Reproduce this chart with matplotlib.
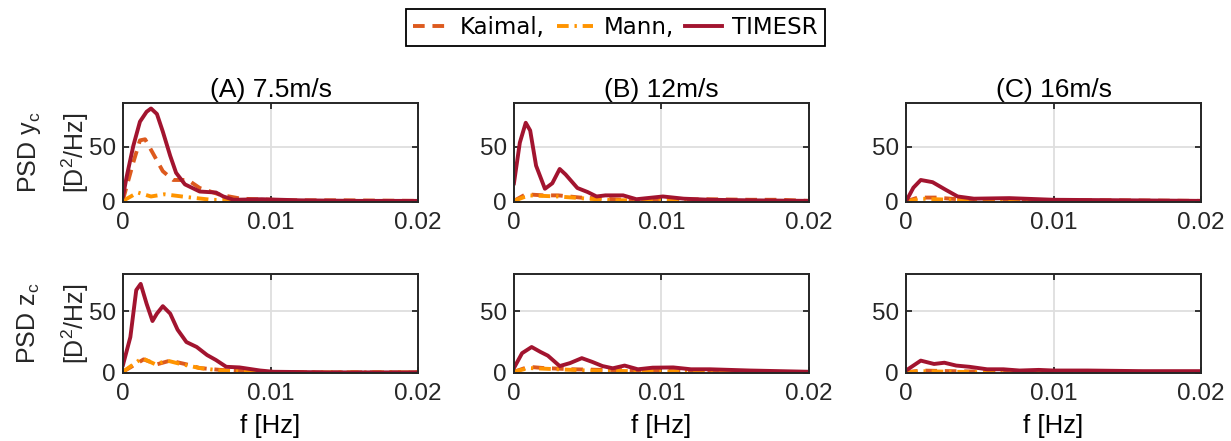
import matplotlib
matplotlib.use("Agg")
import matplotlib.pyplot as plt

# frequency [Hz] / PSD [D^2/Hz]
# row 0 = y_c, row 1 = z_c ; columns A, B, C
TIMESR_F = [
    [[0, 0.00025, 0.0007, 0.00115, 0.0016, 0.0019, 0.0023, 0.0027, 0.0032, 0.0036, 0.0042,
      0.0052, 0.0063, 0.0068, 0.0075, 0.0094, 0.012, 0.016, 0.02],
     [0, 0.0004, 0.0008, 0.0011, 0.0015, 0.0021, 0.0026, 0.0031, 0.0035, 0.0043, 0.005,
      0.0056, 0.0062, 0.0074, 0.0083, 0.0101, 0.0115, 0.0133, 0.016, 0.02],
     [0, 0.0005, 0.001, 0.0018, 0.0027, 0.0035, 0.0046, 0.007, 0.01, 0.015, 0.02]],
    [[0, 0.0005, 0.0009, 0.0012, 0.0016, 0.002, 0.0023, 0.0027, 0.0032, 0.0037, 0.0043,
      0.005, 0.0057, 0.0063, 0.007, 0.0079, 0.0093, 0.0102, 0.014, 0.02],
     [0, 0.00055, 0.0012, 0.0018, 0.0023, 0.0031, 0.0038, 0.0046, 0.0053, 0.006, 0.0067,
      0.0075, 0.0084, 0.0094, 0.0108, 0.012, 0.0133, 0.016, 0.02],
     [0, 0.001, 0.0019, 0.0026, 0.0034, 0.0043, 0.0055, 0.0066, 0.0077, 0.009, 0.01,
      0.0123, 0.016, 0.02]],
]
TIMESR_P = [
    [[5, 23, 51, 73, 82, 85, 80, 64, 42, 26.5, 16, 9.5, 8.6, 5, 2, 2.5, 1.5, 1, 1],
     [17, 54, 72, 65, 33, 12, 17, 30, 25, 12.7, 9, 5, 6, 6, 2.5, 5, 3, 2, 1.5, 1],
     [0.5, 13, 20, 18, 11, 5, 3, 3.5, 2, 1.5, 1]],
    [[6.5, 29, 67, 72, 56, 42, 48, 54, 48, 35, 25, 21, 14.5, 10.5, 5, 4.5, 2, 1, 0.5, 0.5],
     [4, 16, 21, 17, 14, 5.6, 8, 12, 9, 5.6, 3.8, 6, 3, 4.3, 4.5, 3, 3, 2, 1],
     [2, 10, 7.3, 8.3, 6, 5, 3, 3, 2, 2.5, 2, 2, 1.5, 1.5]],
]
KAIMAL_F = [
    [[0, 0.0007, 0.00115, 0.0015, 0.002, 0.0027, 0.0034, 0.0044, 0.0052, 0.0066, 0.008, 0.011, 0.015, 0.02],
     [0, 0.0008, 0.002, 0.003, 0.0045, 0.006, 0.0075, 0.009, 0.011, 0.013, 0.016, 0.018, 0.02],
     [0, 0.0008, 0.002, 0.004, 0.007, 0.01, 0.014, 0.02]],
    [[0, 0.0014, 0.0023, 0.0032, 0.0043, 0.0052, 0.0066, 0.009, 0.013, 0.02],
     [0, 0.001, 0.002, 0.004, 0.006, 0.009, 0.013, 0.02],
     [0, 0.001, 0.003, 0.006, 0.01, 0.015, 0.02]],
]
KAIMAL_P = [
    [[2, 36, 56, 57, 45, 28, 20, 20, 12.7, 6.5, 3, 1.5, 1.5, 1],
     [1, 7, 6, 6, 4, 3, 2, 1, 2, 2.5, 2, 2, 1],
     [0.5, 4, 4, 2, 1.5, 1.5, 1.5, 1]],
    [[1, 11, 7, 10, 7, 4, 2.5, 1, 0.5, 0.5],
     [1, 5, 4, 3, 2.5, 2, 1, 0.5],
     [0.5, 2, 1.5, 1, 1, 1, 0.5]],
]
MANN_F = [
    [[0, 0.001, 0.0019, 0.0028, 0.0043, 0.006, 0.009, 0.014, 0.02],
     [0, 0.001, 0.003, 0.005, 0.007, 0.01, 0.014, 0.02],
     [0, 0.001, 0.003, 0.006, 0.012, 0.02]],
    [[0, 0.0013, 0.0022, 0.003, 0.004, 0.0052, 0.0066, 0.009, 0.013, 0.02],
     [0, 0.001, 0.003, 0.005, 0.008, 0.012, 0.02],
     [0, 0.001, 0.003, 0.006, 0.012, 0.02]],
]
MANN_P = [
    [[1, 8.6, 5, 7, 4.5, 2, 1, 0.5, 0.5],
     [1, 6, 5, 3, 1.5, 2, 1, 0.5],
     [0.5, 3, 2, 1, 0.5, 0.5]],
    [[1, 12, 7, 10, 7, 4, 2, 1, 0.5, 0.5],
     [1, 4, 3, 2, 1.5, 1, 0.5],
     [0.5, 1.5, 1, 0.5, 0.5, 0.5]],
]
TITLES = ["(A) 7.5m/s", "(B) 12m/s", "(C) 16m/s"]
YLAB_1 = ["PSD $\\mathregular{y_c}$", "PSD $\\mathregular{z_c}$"]
YLAB_2 = "[$\\mathregular{D^2}$/Hz]"
YLIMS = [90, 80]

C_KAI = "#DD5A1E"
C_MANN = "#FF9400"
C_TIM = "#A2142F"

plt.rcParams["font.family"] = ["Liberation Sans", "DejaVu Sans"]

fig = plt.figure(figsize=(12.31, 4.41), dpi=100)
lefts = [0.0999, 0.4175, 0.736]
bottoms = [0.542, 0.1542]
w, h = 0.2397, 0.2245

for r in range(2):
    for c in range(3):
        ax = fig.add_axes([lefts[c], bottoms[r], w, h])
        ax.plot(KAIMAL_F[r][c], KAIMAL_P[r][c], color=C_KAI, lw=2.8, ls=(0, (3.0, 2.0)),
                label="Kaimal,")
        ax.plot(MANN_F[r][c], MANN_P[r][c], color=C_MANN, lw=2.8, ls=(0, (3.0, 1.5, 0.6, 1.5)),
                label="Mann,")
        ax.plot(TIMESR_F[r][c], TIMESR_P[r][c], color=C_TIM, lw=2.8, label="TIMESR")
        ax.set_xlim(0, 0.02)
        ax.set_ylim(0, YLIMS[r])
        ax.set_xticks([0, 0.01, 0.02])
        ax.set_xticklabels(["0", "0.01", "0.02"])
        ax.set_yticks([0, 50])
        ax.grid(True, color="#DEDEDE", lw=1.3)
        ax.set_axisbelow(True)
        ax.tick_params(direction="in", top=True, right=True, labelsize=17.5,
                       length=4, width=1.3, colors="#262626", pad=5)
        ax.tick_params(axis="x", pad=7.5)
        for s in ax.spines.values():
            s.set_linewidth(1.4)
            s.set_color("#262626")
        if r == 0:
            ax.set_title(TITLES[c], fontsize=19, pad=4)
        else:
            ax.set_xlabel("f [Hz]", fontsize=18.5, labelpad=6)
        if c == 0:
            # two-line y label, lines spaced like the original
            ymid = bottoms[r] + h / 2
            fig.text(0.0236, ymid, YLAB_1[r], rotation=90, ha="center", va="center",
                     fontsize=18, color="#262626")
            fig.text(0.0613, ymid, YLAB_2, rotation=90, ha="center", va="center",
                     fontsize=18, color="#262626")
        if r == 0 and c == 0:
            handles, labels = ax.get_legend_handles_labels()

fig.legend(handles, labels, loc="upper center", bbox_to_anchor=(0.5, 0.99), ncol=3,
           frameon=True, fancybox=False, edgecolor="black", framealpha=1,
           prop={"family": "DejaVu Sans", "size": 16.5}, handlelength=1.6,
           columnspacing=0.5, handletextpad=0.45, borderpad=0.3, borderaxespad=0.2)
fig.legends[0].get_frame().set_linewidth(1.3)

fig.savefig("out.png", dpi=100)
